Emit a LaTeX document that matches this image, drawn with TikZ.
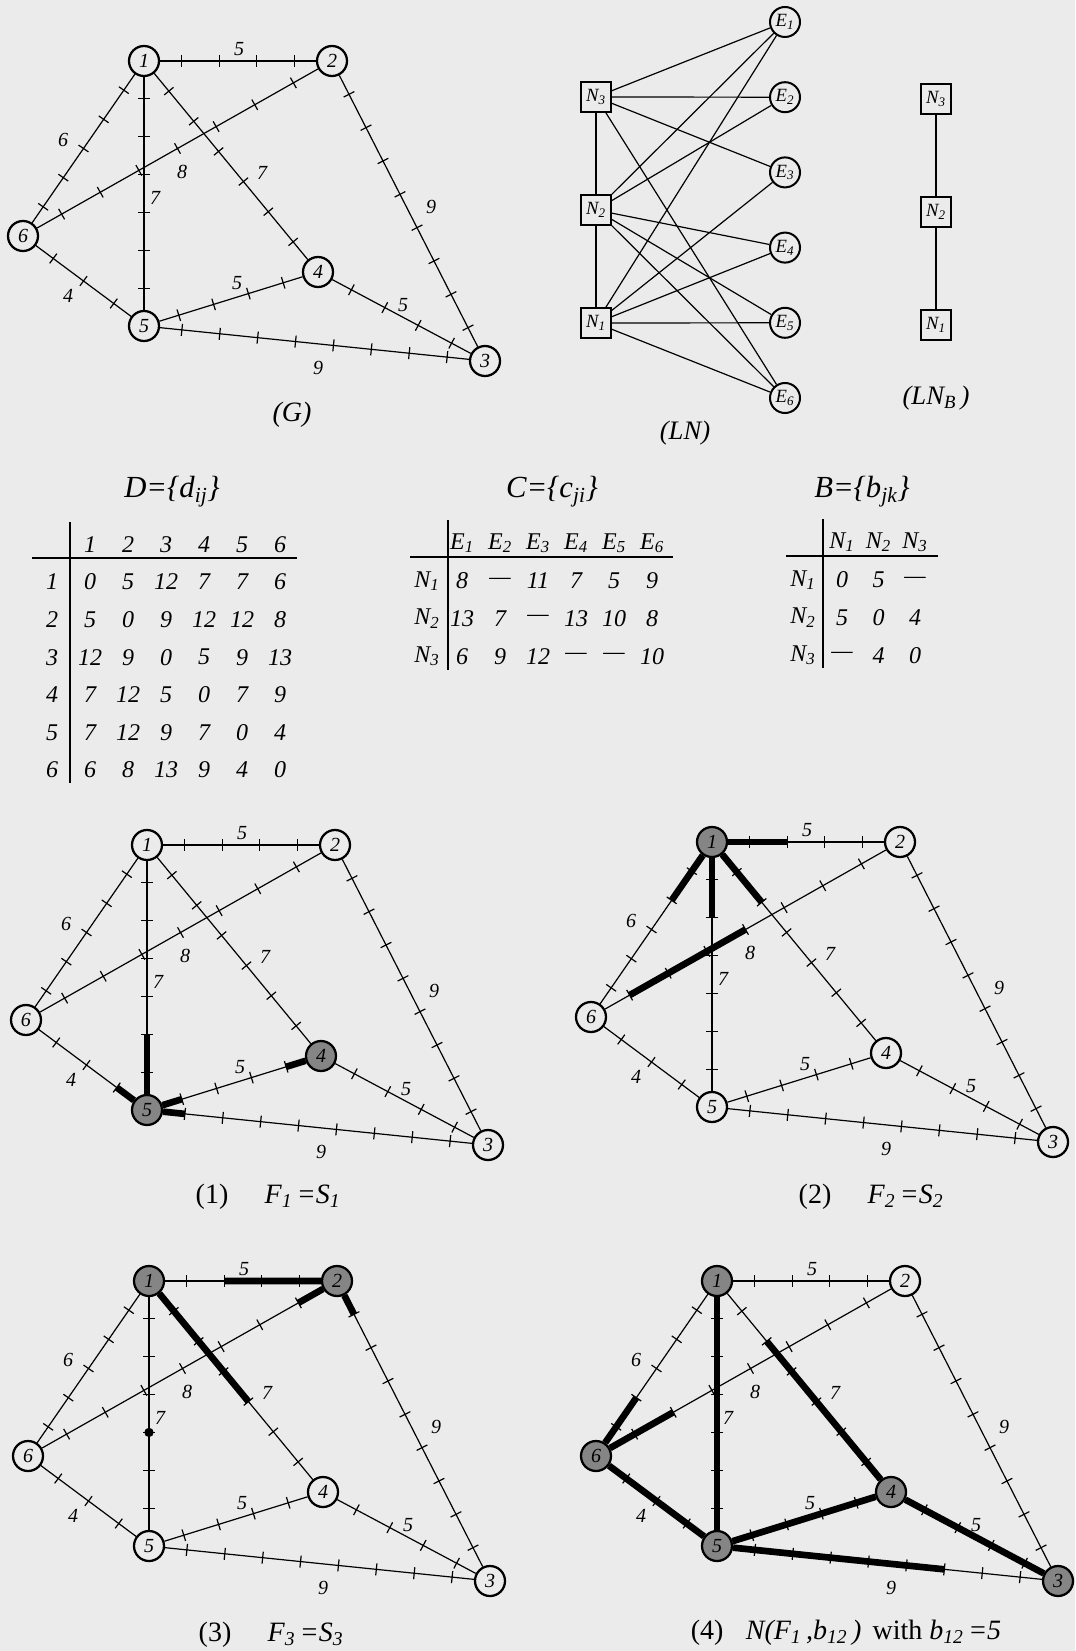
\documentclass[tikz,border=0pt]{standalone}
\usepackage{fontspec}
\setmainfont{Liberation Serif}
\usetikzlibrary{calc}
\newcommand\fsz[1]{\fontsize{#1}{#1}\selectfont}
\makeatletter
% graph G: prefix, x, y of node 1, list of shaded nodes as ,i,j,
\newcommand\graphG[4]{%
  \foreach \i/\dx/\dy in {1/0/0,2/188/0,3/341/300,4/174/211,5/0/265,6/-121/175}{%
    \edef\chk{\noexpand\in@{,\i,}{#4}}\chk
    \ifin@\tikzset{vsty/.style={vtx,hot}}\else\tikzset{vsty/.style={vtx}}\fi
    \node[vsty] (#1\i) at (#2+\dx,#3+\dy) {\i};
  }
  \foreach \a/\b/\w in {1/2/5,1/6/6,1/5/7,1/4/7,2/6/8,2/3/9,6/5/4,5/4/5,4/3/5,5/3/9}{%
    \draw[lnk] (#1\a) -- (#1\b);
    \pgfmathtruncatemacro\wm{\w-1}
    \foreach \k in {1,...,\wm}
      \draw[lnk] ($(#1\a)!\k/\w!(#1\b)!4.5pt!90:(#1\b)$) -- ($(#1\a)!\k/\w!(#1\b)!4.5pt!-90:(#1\b)$);
  }
  \foreach \t/\dx/\dy [count=\n] in {5/95/-12,6/-81/79,8/38/111,7/11/137,7/118/112,9/287/146,4/-76/235,5/93/222,5/259/244,9/174/307}
    \node[wlab] (#1w\n) at (#2+\dx,#3+\dy) {\t};
}
\makeatother

\begin{document}
\begin{tikzpicture}[x=0.75pt,y=-0.75pt,
vtx/.style={circle,draw,line width=1.7pt,minimum size=22.5pt,inner sep=0pt,font=\fsz{15}\itshape},
hot/.style={fill=black!48},
lnk/.style={line width=0.9pt},
fat/.style={line width=5pt},
wlab/.style={font=\fsz{15}\itshape,inner sep=0pt},
nbox/.style={draw,line width=1.5pt,minimum size=22pt,inner sep=0pt,font=\fsz{14}\itshape},
ecirc/.style={circle,draw,line width=1.5pt,minimum size=22.5pt,inner sep=0pt,font=\fsz{14}\itshape},
ttl/.style={font=\fsz{23}\itshape},
cell/.style={font=\fsz{18}\itshape,inner sep=0pt},
tline/.style={line width=1.6pt},
capt/.style={font=\fsz{21}},
blob/.style={circle,fill=black,minimum size=7pt,inner sep=0pt}]
\useasboundingbox (0,0) rectangle (1075,1651);
\fill[black!8] (0,0) rectangle (1075,1651);

% (G)
\graphG{g}{144}{61}{,}
\node[capt,font=\fsz{21}\itshape] (gcap) at (292,415) {(G)};

% (LN)
\foreach \i/\y in {3/97,2/210,1/323}
  \node[nbox] (N\i) at (596,\y) {N\textsubscript{\i}};
\foreach \i in {1,...,6}
  \node[ecirc] (E\i) at (785,22+75.2*\i-75.2) {E\textsubscript{\i}};
\draw[lnk] (N3) -- (N2) -- (N1);
\foreach \e in {1,2,3,6} \draw[lnk] (N3) -- (E\e);
\foreach \e in {1,2,4,5,6} \draw[lnk] (N2) -- (E\e);
\foreach \e in {1,3,4,5,6} \draw[lnk] (N1) -- (E\e);
\node[capt,font=\fsz{20}\itshape] (lncap) at (685,433) {(LN)};

% (LN_B)
\foreach \i/\y in {3/99,2/212,1/325}
  \node[nbox] (M\i) at (936,\y) {N\textsubscript{\i}};
\draw[lnk] (M3) -- (M2) -- (M1);
\node[capt,font=\fsz{20}\itshape] (lnbcap) at (936,398) {(LN\textsubscript{B}\,)};

% D table
\node[ttl] (dttl) at (172,492) {D=\{d\textsubscript{ij}\}};
\draw[tline] (70,522) -- (70,783);
\draw[tline] (32,558) -- (297,558);
\foreach \j in {1,...,6} \node[cell] (dh\j) at (90+38*\j-38,545) {\j};
\foreach \r [count=\i] in {{0,5,12,7,7,6},{5,0,9,12,12,8},{12,9,0,5,9,13},{7,12,5,0,7,9},{7,12,9,7,0,4},{6,8,13,9,4,0}}{
  \node[cell] (dr\i) at (52,582+37.6*\i-37.6) {\i};
  \foreach \v [count=\j] in \r \node[cell] (dm\i\j) at (90+38*\j-38,582+37.6*\i-37.6) {\v};
}

% C table
\node[ttl] (cttl) at (552,492) {C=\{c\textsubscript{ji}\}};
\draw[tline] (448,520) -- (448,670);
\draw[tline] (410,557) -- (673,557);
\foreach \j in {1,...,6} \node[cell] (ch\j) at (462+38*\j-38,543) {E\textsubscript{\j}};
\foreach \r [count=\i] in {{8,---,11,7,5,9},{13,7,---,13,10,8},{6,9,12,---,---,10}}{
  \node[cell] (cr\i) at (427,581+37.6*\i-37.6) {N\textsubscript{\i}};
  \foreach \v [count=\j] in \r \node[cell] (cm\i\j) at (462+38*\j-38,581+37.6*\i-37.6) {\v};
}

% B table
\node[ttl] (bttl) at (862,492) {B=\{b\textsubscript{jk}\}};
\draw[tline] (823,519) -- (823,668);
\draw[tline] (786,556) -- (938,556);
\foreach \j in {1,2,3} \node[cell] (bh\j) at (842+36.5*\j-36.5,542) {N\textsubscript{\j}};
\foreach \r [count=\i] in {{0,5,---},{5,0,4},{---,4,0}}{
  \node[cell] (br\i) at (803,580+37.6*\i-37.6) {N\textsubscript{\i}};
  \foreach \v [count=\j] in \r \node[cell] (bm\i\j) at (842+36.5*\j-36.5,580+37.6*\i-37.6) {\v};
}

% (1)
\graphG{fa}{147}{845}{,4,5,}
\draw[fat] (fa5) -- ($(fa5)!2/7!(fa1)$);
\draw[fat] (fa5) -- ($(fa5)!1/4!(fa6)$);
\draw[fat] (fa5) -- ($(fa5)!1/5!(fa4)$);
\draw[fat] (fa5) -- ($(fa5)!1/9!(fa3)$);
\draw[fat] (fa4) -- ($(fa4)!1/5!(fa5)$);
\node[capt] (cap1) at (268,1197) {(1)\hspace{1.3em}\textit{F\textsubscript{1}\,=S\textsubscript{1}}};

% (2)
\graphG{fb}{712}{842}{,1,}
\draw[fat] (fb1) -- ($(fb1)!2/5!(fb2)$);
\draw[fat] (fb1) -- ($(fb1)!2/6!(fb6)$);
\draw[fat] (fb1) -- ($(fb1)!2/7!(fb5)$);
\draw[fat] (fb1) -- ($(fb1)!2/7!(fb4)$);
\draw[fat] ($(fb6)!1/8!(fb2)$) -- ($(fb6)!4/8!(fb2)$);
\node[capt] (cap2) at (871,1197) {(2)\hspace{1.3em}\textit{F\textsubscript{2}\,=S\textsubscript{2}}};

% (3)
\graphG{fc}{149}{1281}{,1,2,}
\draw[fat] (fc2) -- ($(fc2)!3/5!(fc1)$);
\draw[fat] (fc1) -- ($(fc1)!4/7!(fc4)$);
\draw[fat] (fc2) -- ($(fc2)!1/8!(fc6)$);
\draw[fat] (fc2) -- ($(fc2)!1/9!(fc3)$);
\node[blob] (fcdot) at ($(fc1)!4/7!(fc5)$) {};
\node[capt] (cap3) at (271,1635) {(3)\hspace{1.3em}\textit{F\textsubscript{3}\,=S\textsubscript{3}}};

% (4)
\graphG{fd}{717}{1281}{,1,3,4,5,6,}
\draw[fat] (fd1) -- (fd5);
\draw[fat] (fd6) -- (fd5);
\draw[fat] (fd5) -- (fd4);
\draw[fat] (fd4) -- (fd3);
\draw[fat] (fd6) -- ($(fd6)!2/6!(fd1)$);
\draw[fat] (fd6) -- ($(fd6)!2/8!(fd2)$);
\draw[fat] (fd4) -- ($(fd4)!5/7!(fd1)$);
\draw[fat] (fd5) -- ($(fd5)!6/9!(fd3)$);
\node[capt] (cap4) at (846,1633) {(4)\hspace{0.8em}\textit{N(F\textsubscript{1}\,,b\textsubscript{12}\,)}\hspace{0.4em}with \textit{b\textsubscript{12}\,=5}};
\end{tikzpicture}
\end{document}
